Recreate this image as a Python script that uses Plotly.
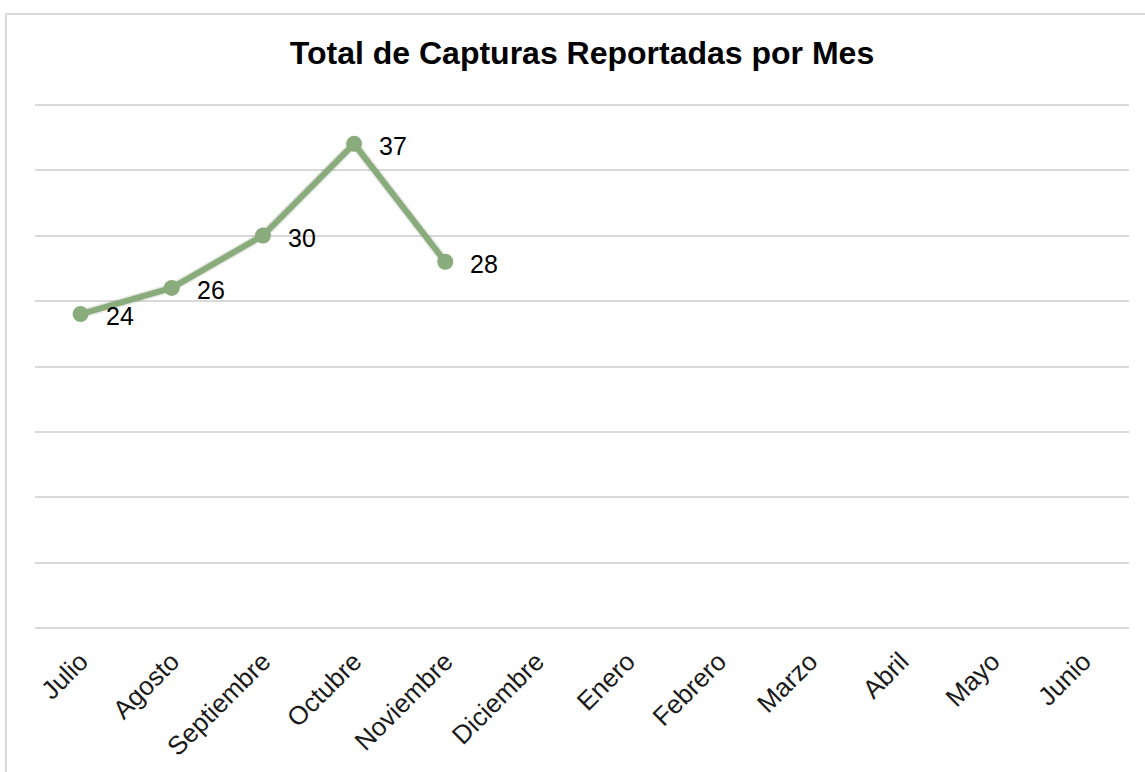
import plotly.graph_objects as go

meses = ["Julio", "Agosto", "Septiembre", "Octubre", "Noviembre", "Diciembre",
         "Enero", "Febrero", "Marzo", "Abril", "Mayo", "Junio"]
capturas_mes = ["Julio", "Agosto", "Septiembre", "Octubre", "Noviembre"]
capturas = [24, 26, 30, 37, 28]
grid_y = [0, 5, 10, 15, 20, 25, 30, 35, 40]

LINE_COLOR = "#8aab7b"
FONT = "Liberation Sans, Arial"

fig = go.Figure()

# soft shadow under the line
fig.add_trace(go.Scatter(
    x=capturas_mes, y=capturas, mode="lines",
    line=dict(color="rgba(60,80,50,0.12)", width=9),
    hoverinfo="skip", showlegend=False))

fig.add_trace(go.Scatter(
    x=capturas_mes, y=capturas,
    mode="lines+markers",
    line=dict(color=LINE_COLOR, width=6),
    marker=dict(color=LINE_COLOR, size=16),
    name="Capturas", showlegend=False))

# data labels to the right of each point
for mes, v in zip(capturas_mes, capturas):
    fig.add_annotation(x=mes, y=v, text=str(v), showarrow=False,
                       xanchor="left", yanchor="middle", xshift=23, yshift=-2,
                       font=dict(family=FONT, size=25, color="#000000"))

W, H = 1145, 772
ml, mr, mt, mb = 35, 16, 103, 142
pw, ph = W - ml - mr, H - mt - mb

# outer chart border (left/top visible, rest clipped)
fig.add_shape(type="rect", xref="paper", yref="paper",
              x0=(6 - ml) / pw, x1=(W + 20 - ml) / pw,
              y0=-(H + 20 - mt - ph) / ph, y1=(H - 14 - mb) / ph,
              line=dict(color="#d9d9d9", width=2), layer="below")

fig.update_layout(
    width=W, height=H,
    margin=dict(l=ml, r=mr, t=mt, b=mb, autoexpand=False),
    paper_bgcolor="white", plot_bgcolor="white",
    title=dict(text="<b>Total de Capturas Reportadas por Mes</b>",
               x=0.5, xref="paper", xanchor="center", y=1 - 53 / H, yanchor="middle",
               font=dict(family=FONT, size=32, color="#000000")),
    font=dict(family=FONT),
)

fig.update_xaxes(
    type="category", categoryorder="array", categoryarray=meses,
    range=[-0.5, 11.5], tickvals=meses, ticktext=meses,
    tickangle=-45, tickfont=dict(size=26, color="#1a1a1a"),
    ticklabelstandoff=10,
    showgrid=False, showline=False, zeroline=False, ticks="", automargin=False)

fig.update_yaxes(
    range=[-0.12, 40.12], tickvals=grid_y,
    showticklabels=False,
    showgrid=True, gridcolor="#d9d9d9", gridwidth=2,
    zeroline=False, showline=False)

fig.write_html("out.html", config={"displayModeBar": False},
               post_script="document.body.style.margin='0';")
